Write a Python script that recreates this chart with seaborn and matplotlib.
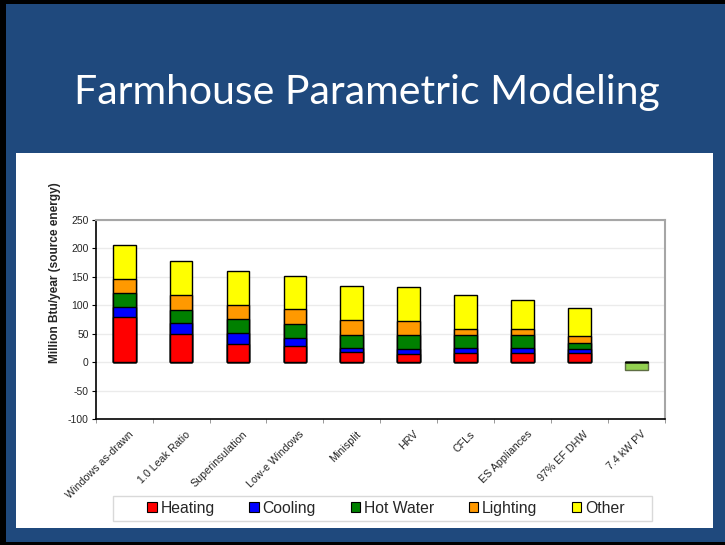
import matplotlib
matplotlib.use("Agg")
import matplotlib.pyplot as plt
import matplotlib.transforms as mtransforms
import seaborn as sns
from matplotlib.patches import Rectangle, Patch
from matplotlib.ticker import FixedLocator

# Data (Million Btu/year, source energy)
categories = ["Windows as-drawn", "1.0 Leak Ratio", "Superinsulation", "Low-e Windows",
              "Minisplit", "HRV", "CFLs", "ES Appliances", "97% EF DHW", "7.4 kW PV"]
heating = [79, 49, 32, 29, 17.5, 15, 17, 17, 17, 0]
cooling = [18, 19.5, 19, 14.5, 7, 9, 7.5, 7.5, 7, 0]
hot_water = [24, 23.5, 24.5, 23, 23.5, 23.5, 24, 24, 10.5, 0]
lighting = [26, 26, 24.5, 26.5, 26, 26, 10, 10.5, 11, 0]
other = [59.5, 59.5, 60, 58.5, 59.5, 59, 59, 51, 50.5, 0]
pv = [0, 0, 0, 0, 0, 0, 0, 0, 0, -14]

series_names = ["Heating", "Cooling", "Hot Water", "Lighting", "Other"]
series_colors = ["#FF0000", "#0000FF", "#008000", "#FF9900", "#FFFF00"]

W, H = 725, 545

sns.set_style("white")
plt.rcParams["font.family"] = ["Liberation Sans", "DejaVu Sans"]
plt.rcParams["axes.unicode_minus"] = False

fig = plt.figure(figsize=(W / 100, H / 100), dpi=100)
fig.patch.set_facecolor("black")


def px_rect(x0, y0, x1, y1, **kw):
    # rectangle given in pixel coordinates (origin top-left)
    return Rectangle((x0 / W, 1 - y1 / H), (x1 - x0) / W, (y1 - y0) / H,
                     transform=fig.transFigure, **kw)


# slide background and white panel
fig.patches.append(px_rect(6, 4, W, 542, facecolor="#1F497D", edgecolor="none", zorder=0))
fig.patches.append(px_rect(16, 153, 713, 528, facecolor="white", edgecolor="none", zorder=1))

fig.text(367 / W, 1 - 104 / H, "Farmhouse Parametric Modeling", color="white",
         fontsize=29.5, family=["Lato", "DejaVu Sans"], ha="center", va="baseline")

ax = fig.add_axes([95.7 / W, 1 - 419.3 / H, (665 - 95.7) / W, (419.3 - 220) / H])
ax.set_zorder(2)

# stacked bars: draw cumulative totals from the top segment down
stacks = [heating, cooling, hot_water, lighting, other]
cumulative = []
running = [0] * len(categories)
for s in stacks:
    running = [r + v for r, v in zip(running, s)]
    cumulative.append(list(running))

sns.barplot(x=categories, y=pv, color="#92D050", saturation=1, width=0.4,
            edgecolor="#5E6E44", linewidth=1, ax=ax, zorder=3)
for vals, col in reversed(list(zip(cumulative, series_colors))):
    sns.barplot(x=categories, y=vals, color=col, saturation=1, width=0.4,
                edgecolor="black", linewidth=1, ax=ax, zorder=3)

ax.set_ylim(-100, 250)
ax.set_xlim(-0.5, len(categories) - 0.5)
ax.set_yticks(range(-100, 251, 50))
ax.yaxis.grid(True, color="#EBEBEB", linewidth=1)
ax.set_axisbelow(True)
ax.tick_params(axis="y", labelsize=7.5, length=3, width=0.8, color="black", pad=2, left=True)
ax.tick_params(axis="x", which="major", length=0, labelsize=7.7, pad=7)
ax.xaxis.set_minor_locator(FixedLocator([i - 0.5 for i in range(len(categories) + 1)]))
ax.tick_params(axis="x", which="minor", length=3, color="#888888", bottom=True)
ax.set_xticks(range(len(categories)))
ax.set_xticklabels(categories, rotation=45, ha="right", rotation_mode="anchor")
shift = mtransforms.ScaledTranslation(4 / 100, 0, fig.dpi_scale_trans)
for lbl in ax.get_xticklabels():
    lbl.set_transform(lbl.get_transform() + shift)
ax.set_xlabel("")
ax.set_ylabel("")

for side in ["left", "bottom"]:
    ax.spines[side].set_color("black")
    ax.spines[side].set_linewidth(1.2)
for side in ["top", "right"]:
    ax.spines[side].set_visible(True)
    ax.spines[side].set_color("#A6A6A6")
    ax.spines[side].set_linewidth(1.5)

fig.text(55 / W, 1 - 273 / H, "Million Btu/year (source energy)", rotation=90,
         fontsize=8.6, fontweight="bold", ha="center", va="center")

# legend with its own box
fig.patches.append(px_rect(113, 496, 652, 521, facecolor="white", edgecolor="#D9D9D9",
                           linewidth=1, zorder=3))
handles = [Patch(facecolor=c, edgecolor="black", linewidth=0.8) for c in series_colors]
leg = fig.legend(handles, series_names, loc="center", ncol=5, frameon=False,
                 bbox_to_anchor=(386 / W, 1 - 508.5 / H), fontsize=11.3,
                 handlelength=0.6, handleheight=0.6, handletextpad=0.25,
                 columnspacing=2.2)
leg.set_zorder(4)

fig.savefig("out.png", dpi=100, facecolor=fig.get_facecolor())
